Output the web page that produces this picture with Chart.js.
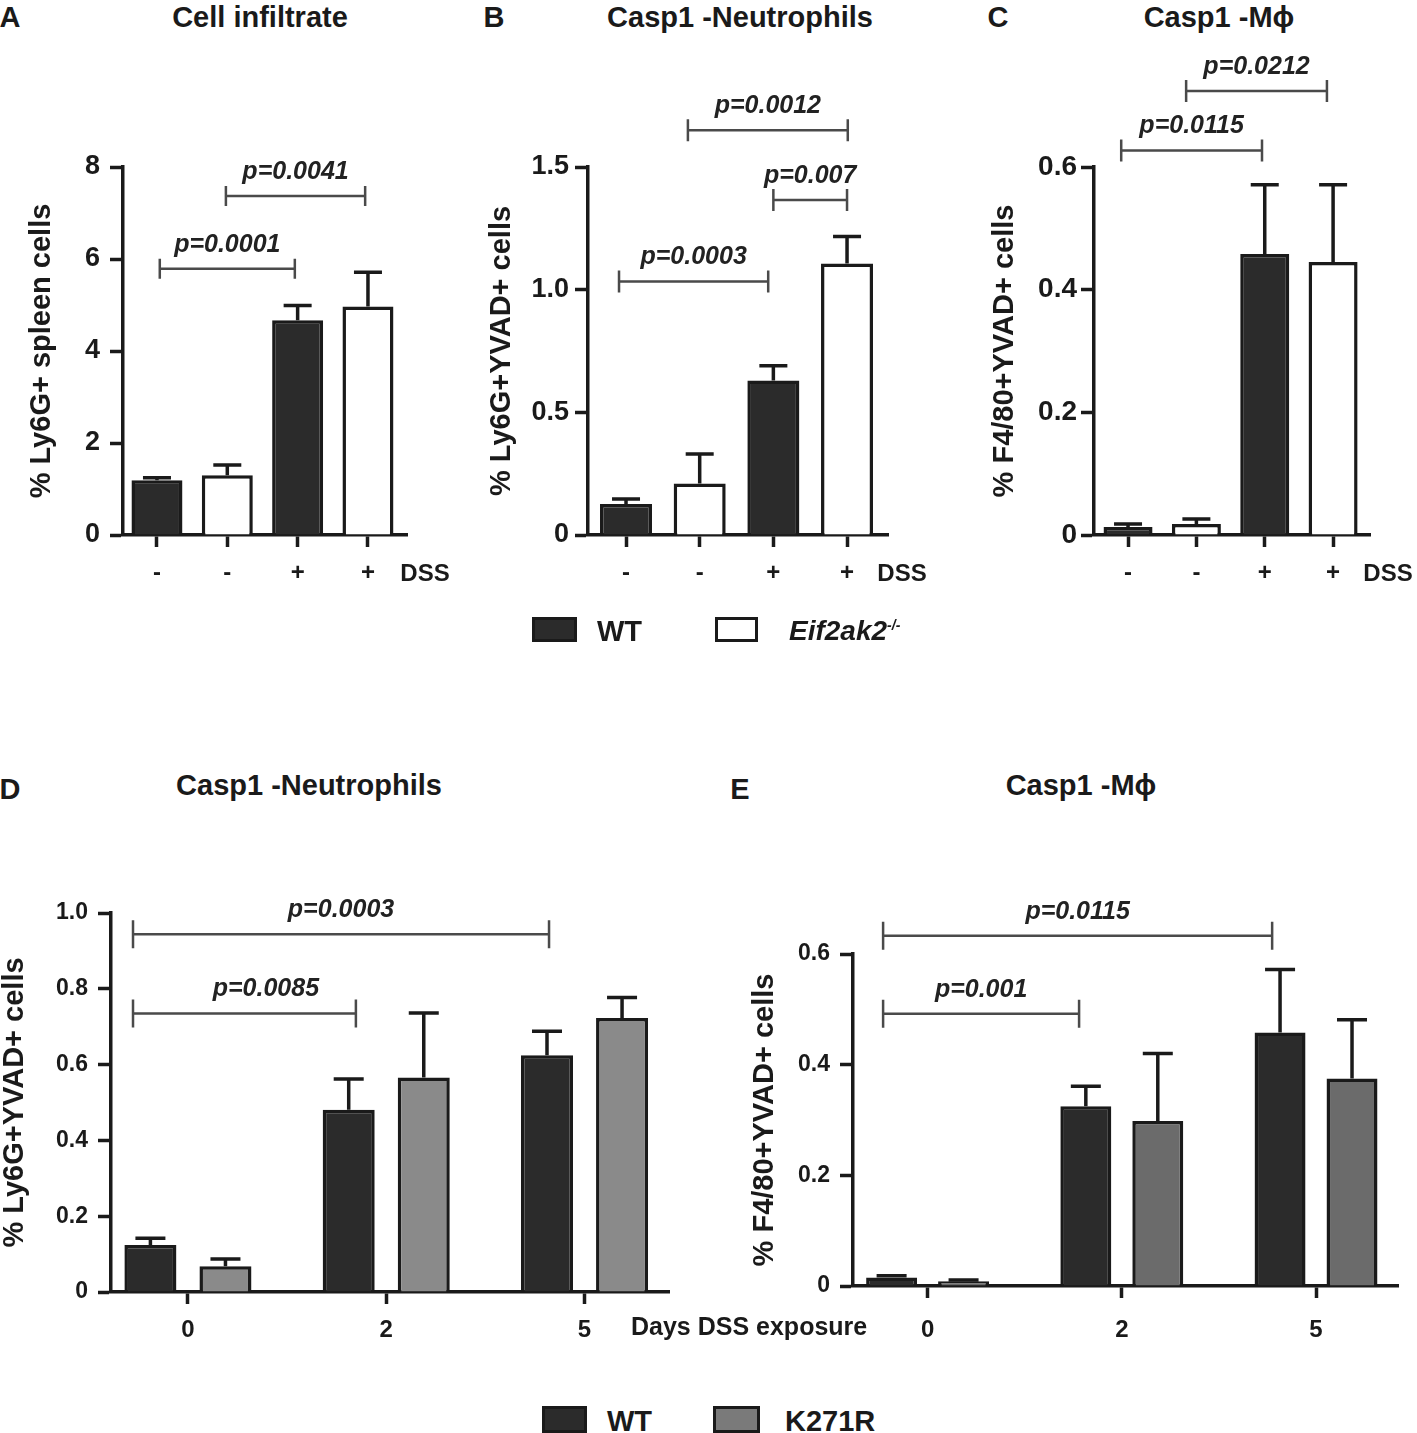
<!DOCTYPE html>
<html>
<head>
<meta charset="utf-8">
<script src="https://cdn.jsdelivr.net/npm/chart.js@4.4.1/dist/chart.umd.min.js"></script>
<style>
body { margin: 0; background: #fff; width: 1417px; height: 1433px; position: relative; overflow: hidden;
       font-family: "Liberation Sans", Arial, sans-serif; font-weight: bold; color: #1a1a1a; }
canvas { position: absolute; }
.c { position: absolute; white-space: nowrap; line-height: 1; transform: translate(-50%, -50%); }
.l { position: absolute; white-space: nowrap; line-height: 1; transform: translateY(-50%); }
.sw { position: absolute; box-sizing: border-box; border: 3.5px solid #1a1a1a; }
</style>
</head>
<body>

<div class="c" style="left:10px;top:17px;font-size:29px">A</div>
<div class="c" style="left:494px;top:17px;font-size:29px">B</div>
<div class="c" style="left:998px;top:17px;font-size:29px">C</div>
<div class="c" style="left:10px;top:789px;font-size:29px">D</div>
<div class="c" style="left:740px;top:789px;font-size:29px">E</div>

<div class="c" style="left:260px;top:17px;font-size:29px">Cell infiltrate</div>
<div class="c" style="left:740px;top:17px;font-size:29px">Casp1 -Neutrophils</div>
<div class="c" style="left:1219px;top:17px;font-size:29px">Casp1 -Mϕ</div>
<div class="c" style="left:309px;top:785px;font-size:29px">Casp1 -Neutrophils</div>
<div class="c" style="left:1081px;top:785px;font-size:29px">Casp1 -Mϕ</div>

<canvas id="chA" width="470" height="620" style="left:0;top:0"></canvas>
<canvas id="chB" width="480" height="620" style="left:470px;top:0"></canvas>
<canvas id="chC" width="467" height="620" style="left:950px;top:0"></canvas>
<canvas id="chD" width="720" height="670" style="left:0;top:700px"></canvas>
<canvas id="chE" width="697" height="670" style="left:720px;top:700px"></canvas>

<div class="c" style="left:425px;top:573px;font-size:24px">DSS</div>
<div class="c" style="left:902px;top:573px;font-size:24px">DSS</div>
<div class="c" style="left:1388px;top:573px;font-size:24px">DSS</div>
<div class="l" style="left:631px;top:1326px;font-size:25px">Days DSS exposure</div>

<div class="sw" style="left:532px;top:617px;width:45px;height:25px;background:#2b2b2b"></div>
<div class="l" style="left:597px;top:631px;font-size:29px">WT</div>
<div class="sw" style="left:715px;top:617px;width:43px;height:25px;background:#fff"></div>
<div class="l" style="left:789px;top:631px;font-size:28px;font-style:italic">Eif2ak2<sup style="font-size:14px">-/-</sup></div>

<div class="sw" style="left:542px;top:1406px;width:45px;height:27px;background:#2b2b2b"></div>
<div class="l" style="left:607px;top:1421px;font-size:29px">WT</div>
<div class="sw" style="left:713px;top:1406px;width:47px;height:27px;background:#7a7a7a"></div>
<div class="l" style="left:785px;top:1421px;font-size:29px">K271R</div>

<script>
// ---- data ----
var dssLabels = ['-', '-', '+', '+'];
var genotype = ['WT', 'KO', 'WT', 'KO'];

var infiltrateMean = [1.19, 1.30, 4.67, 4.97];
var infiltrateSem = [0.055, 0.22, 0.32, 0.74];

var neutroMean = [0.126, 0.21, 0.63, 1.107];
var neutroSem = [0.021, 0.12, 0.06, 0.11];

var macroMean = [0.013, 0.018, 0.458, 0.445];
var macroSem = [0.005, 0.008, 0.113, 0.126];

var days = ['0', '2', '5'];
var neutroWT = [0.124, 0.481, 0.625];
var neutroWTSem = [0.018, 0.081, 0.063];
var neutroK271R = [0.068, 0.566, 0.723];
var neutroK271RSem = [0.019, 0.17, 0.054];

var macroWT = [0.0155, 0.325, 0.458];
var macroWTSem = [0.003, 0.036, 0.114];
var macroK271R = [0.0087, 0.298, 0.375];
var macroK271RSem = [0.002, 0.122, 0.106];

var ticksA = [0, 2, 4, 6, 8], tickLabelsA = ['0', '2', '4', '6', '8'];
var ticksB = [0, 0.5, 1, 1.5], tickLabelsB = ['0', '0.5', '1.0', '1.5'];
var ticksC = [0, 0.2, 0.4, 0.6], tickLabelsC = ['0', '0.2', '0.4', '0.6'];
var ticksD = [0, 0.2, 0.4, 0.6, 0.8, 1.0], tickLabelsD = ['0', '0.2', '0.4', '0.6', '0.8', '1.0'];
var ticksE = [0, 0.2, 0.4, 0.6], tickLabelsE = ['0', '0.2', '0.4', '0.6'];

// significance brackets: x positions in bar/group index units, height in axis units
var bracketsA = [
  { from: 0.04, to: 1.96, y: 5.79, p: 'p=0.0001' },
  { from: 0.98, to: 2.96, y: 7.37, p: 'p=0.0041' }
];
var bracketsB = [
  { from: -0.095, to: 1.93, y: 1.033, p: 'p=0.0003' },
  { from: 2.0, to: 3.0, y: 1.365, p: 'p=0.007' },
  { from: 0.84, to: 3.01, y: 1.65, p: 'p=0.0012' }
];
var bracketsC = [
  { from: -0.1, to: 1.96, y: 0.627, p: 'p=0.0115' },
  { from: 0.85, to: 2.91, y: 0.724, p: 'p=0.0212' }
];
var bracketsD = [
  { from: -0.277, to: 0.847, y: 0.735, p: 'p=0.0085', at: 0.393 },
  { from: -0.277, to: 1.821, y: 0.944, p: 'p=0.0003' }
];
var bracketsE = [
  { from: -0.229, to: 0.78, y: 0.492, p: 'p=0.001' },
  { from: -0.229, to: 1.774, y: 0.633, p: 'p=0.0115' }
];

var INK = '#1a1a1a';
var DARK = '#2b2b2b';
var FONT = '"Liberation Sans", Arial, sans-serif';

// error bars + brackets, drawn through the chart scales
function annotate(s) {
  return {
    id: 'annotate',
    afterDatasetsDraw: function (chart) {
      var ctx = chart.ctx, xs = chart.scales.x, ys = chart.scales.y;
      ctx.save();
      ctx.lineCap = 'butt';
      s.datasets.forEach(function (ds, di) {
        var meta = chart.getDatasetMeta(di);
        meta.data.forEach(function (bar, i) {
          var top = ys.getPixelForValue(ds.data[i].y + ds.sem[i]);
          ctx.strokeStyle = INK;
          ctx.lineWidth = 3.5;
          ctx.beginPath();
          ctx.moveTo(bar.x, bar.y);
          ctx.lineTo(bar.x, top);
          ctx.moveTo(bar.x - s.cap / 2, top);
          ctx.lineTo(bar.x + s.cap / 2, top);
          ctx.stroke();
        });
      });
      s.brackets.forEach(function (b) {
        var x1 = xs.getPixelForValue(b.from), x2 = xs.getPixelForValue(b.to);
        var yy = ys.getPixelForValue(b.y);
        ctx.strokeStyle = '#4a4a4a';
        ctx.lineWidth = 2.5;
        ctx.beginPath();
        ctx.moveTo(x1, yy); ctx.lineTo(x2, yy);
        ctx.moveTo(x1, yy - s.bTick); ctx.lineTo(x1, yy + s.bTick);
        ctx.moveTo(x2, yy - s.bTick); ctx.lineTo(x2, yy + s.bTick);
        ctx.stroke();
        var lx = b.at !== undefined ? xs.getPixelForValue(b.at) : (x1 + x2) / 2;
        ctx.fillStyle = '#222';
        ctx.font = 'italic bold 25px ' + FONT;
        ctx.textAlign = 'center';
        ctx.textBaseline = 'middle';
        ctx.fillText(b.p, lx, yy - 24);
      });
      ctx.restore();
    }
  };
}

function barChart(id, s) {
  var xFont = { family: FONT, size: s.xTickSize, weight: 'bold' };
  var yFont = { family: FONT, size: s.yTickSize, weight: 'bold' };
  return new Chart(document.getElementById(id), {
    type: 'bar',
    data: { datasets: s.datasets },
    options: {
      responsive: false,
      animation: false,
      events: [],
      layout: { padding: { top: s.padTop, right: s.padRight, left: 0, bottom: 0 } },
      datasets: { bar: { categoryPercentage: s.cp, barPercentage: s.bp, borderWidth: 3.5, borderColor: INK } },
      plugins: {
        legend: { display: false },
        tooltip: { enabled: false }
      },
      scales: {
        x: {
          type: 'linear', min: s.xMin, max: s.xMax, offset: false,
          afterBuildTicks: function (sc) { sc.ticks = s.xLabels.map(function (l, i) { return { value: i }; }); },
          afterFit: function (sc) { sc.height = s.xh; },
          ticks: { autoSkip: false, maxRotation: 0, padding: s.xPad, color: INK, font: xFont,
                   callback: function (v, i) { return s.xLabels[i]; } },
          grid: { drawOnChartArea: false, drawTicks: true, tickLength: 12, tickWidth: 3.5, tickColor: INK, offset: false },
          border: { display: true, width: 3.5, color: INK }
        },
        y: {
          min: 0, max: s.yTicks[s.yTicks.length - 1],
          afterBuildTicks: function (sc) { sc.ticks = s.yTicks.map(function (v) { return { value: v }; }); },
          afterFit: function (sc) { sc.width = s.yw; },
          ticks: { padding: s.yPad, color: INK, font: yFont,
                   callback: function (v, i) { return s.yLabels[i]; } },
          grid: { drawOnChartArea: false, drawTicks: true, tickLength: 13, tickWidth: 3.5, tickColor: INK },
          border: { display: true, width: 3.5, color: INK },
          title: { display: true, text: s.yTitle, color: INK, padding: { top: s.titlePad, bottom: 0 },
                   font: { family: FONT, size: 29, weight: 'bold', lineHeight: 1 } }
        }
      }
    },
    plugins: [annotate(s)]
  });
}

function points(vals) { return vals.map(function (v, i) { return { x: i, y: v }; }); }
function genoColors() { return genotype.map(function (g) { return g === 'WT' ? DARK : '#ffffff'; }); }

barChart('chA', {
  datasets: [{ data: points(infiltrateMean), sem: infiltrateSem, backgroundColor: genoColors() }],
  xLabels: dssLabels, yTicks: ticksA, yLabels: tickLabelsA, brackets: bracketsA,
  yTitle: '% Ly6G+ spleen cells', titlePad: 27,
  xMin: -0.483, xMax: 3.555, cp: 1, bp: 0.725,
  padTop: 167, padRight: 63, yw: 123, xh: 85, xPad: 12, yPad: 10,
  xTickSize: 24, yTickSize: 27, cap: 28, bTick: 10
});

barChart('chB', {
  datasets: [{ data: points(neutroMean), sem: neutroSem, backgroundColor: genoColors() }],
  xLabels: dssLabels, yTicks: ticksB, yLabels: tickLabelsB, brackets: bracketsB,
  yTitle: '% Ly6G+YVAD+ cells', titlePad: 17,
  xMin: -0.516, xMax: 3.556, cp: 1, bp: 0.706,
  padTop: 167, padRight: 62, yw: 118, xh: 85, xPad: 12, yPad: 6,
  xTickSize: 24, yTickSize: 27, cap: 28, bTick: 11
});

barChart('chC', {
  datasets: [{ data: points(macroMean), sem: macroSem, backgroundColor: genoColors() }],
  xLabels: dssLabels, yTicks: ticksC, yLabels: tickLabelsC, brackets: bracketsC,
  yTitle: '% F4/80+YVAD+ cells', titlePad: 40,
  xMin: -0.498, xMax: 3.54, cp: 1, bp: 0.717,
  padTop: 167, padRight: 47, yw: 144, xh: 85, xPad: 12, yPad: 4,
  xTickSize: 24, yTickSize: 28, cap: 28, bTick: 11
});

barChart('chD', {
  datasets: [
    { data: points(neutroWT), sem: neutroWTSem, backgroundColor: DARK },
    { data: points(neutroK271R), sem: neutroK271RSem, backgroundColor: '#8a8a8a' }
  ],
  xLabels: days, yTicks: ticksD, yLabels: tickLabelsD, brackets: bracketsD,
  yTitle: '% Ly6G+YVAD+ cells', titlePad: 0,
  xMin: -0.388, xMax: 2.426, cp: 0.757, bp: 0.693,
  padTop: 213, padRight: 51, yw: 111, xh: 78, xPad: 12, yPad: 10,
  xTickSize: 24, yTickSize: 23, cap: 30, bTick: 14
});

barChart('chE', {
  datasets: [
    { data: points(macroWT), sem: macroWTSem, backgroundColor: DARK },
    { data: points(macroK271R), sem: macroK271RSem, backgroundColor: '#6b6b6b' }
  ],
  xLabels: days, yTicks: ticksE, yLabels: tickLabelsE, brackets: bracketsE,
  yTitle: '% F4/80+YVAD+ cells', titlePad: 30,
  xMin: -0.384, xMax: 2.422, cp: 0.741, bp: 0.708,
  padTop: 254, padRight: 19, yw: 133, xh: 84, xPad: 18, yPad: 10,
  xTickSize: 24, yTickSize: 23, cap: 30, bTick: 14
});
</script>
</body>
</html>
